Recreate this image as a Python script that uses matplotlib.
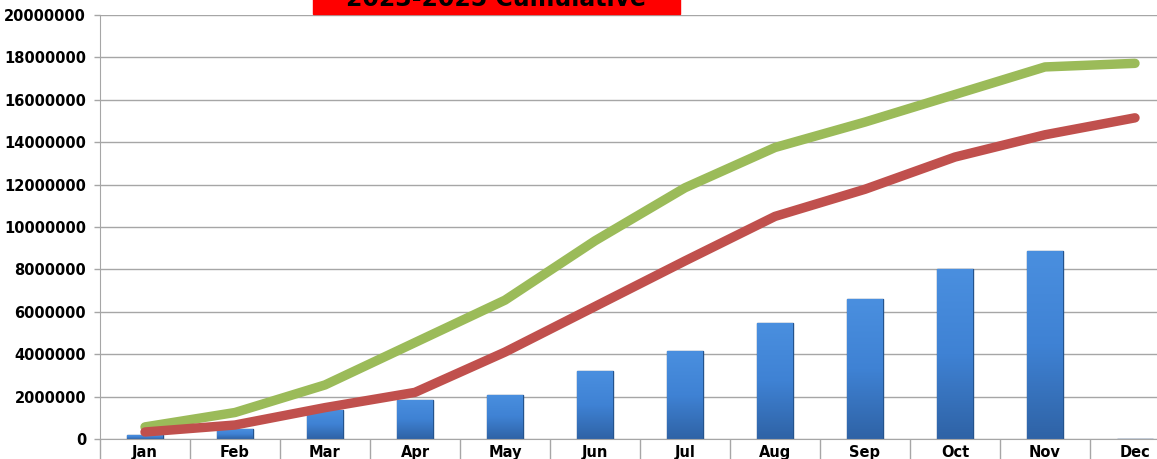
""" cumulative monthly chart - bars + two running totals """

import numpy as np
import matplotlib.pyplot as plt
from matplotlib.colors import LinearSegmentedColormap
from matplotlib.patches import Rectangle

months = ["Jan", "Feb", "Mar", "Apr", "May", "Jun",
          "Jul", "Aug", "Sep", "Oct", "Nov", "Dec"]

# monthly bars (current year, Dec not in yet)
bars = [180000, 450000, 1370000, 1840000, 2080000, 3200000,
        4150000, 5470000, 6600000, 8000000, 8880000, 0]
# cumulative lines
green = [570000, 1250000, 2550000, 4550000, 6550000, 9350000,
         11850000, 13750000, 14950000, 16250000, 17550000, 17720000]
red = [330000, 660000, 1480000, 2200000, 4100000, 6250000,
       8400000, 10500000, 11780000, 13300000, 14350000, 15150000]

title = "2023-2025 Cumulative"
yticks = np.arange(0, 20000001, 2000000)

fig = plt.figure(figsize=(11.57, 4.59), dpi=100)
ax = fig.add_axes([100 / 1157, 20 / 459, 1080 / 1157, 424 / 459])

x = np.arange(len(months))
rects = ax.bar(x, bars, width=0.4, color="#3b78c4", edgecolor="#24538c",
               linewidth=1.0, zorder=2)

# shaded look on the bars: lighter on top, darker toward the base
cmap = LinearSegmentedColormap.from_list("bev", ["#2f63a6", "#3f82d4", "#4a8fdf"])
grad = np.linspace(0, 1, 100).reshape(-1, 1)
for r in rects:
    h = r.get_height()
    if h <= 0:
        continue
    im = ax.imshow(grad, cmap=cmap, aspect="auto", origin="lower",
                   extent=(r.get_x(), r.get_x() + r.get_width(), 0, h),
                   zorder=2.1)
    im.set_clip_path(r)

ax.plot(x, green, color="#9bbb59", lw=6.8, solid_capstyle="round",
        solid_joinstyle="round", zorder=3)
ax.plot(x, red, color="#c0504d", lw=6.8, solid_capstyle="round",
        solid_joinstyle="round", zorder=4)

ax.set_xlim(-0.5, 11.5)
ax.set_ylim(0, 20000000)
ax.set_yticks(yticks)
ax.set_yticklabels([str(v) for v in yticks], fontsize=10.5, fontweight="bold")
ax.yaxis.grid(True, color="#a6a6a6", lw=1.0, zorder=0)
ax.set_axisbelow(True)

ax.set_xticks(x)
ax.set_xticklabels(months, fontsize=10.5, fontweight="bold")
ax.set_xticks(np.arange(-0.5, 12, 1), minor=True)
ax.tick_params(axis="x", which="major", length=0, pad=4)
ax.tick_params(axis="x", which="minor", length=16, color="#a6a6a6", width=1)
ax.tick_params(axis="y", length=4, color="#a6a6a6", width=1, pad=6)

for s in ["top", "right"]:
    ax.spines[s].set_visible(False)
ax.spines["left"].set_color("#a6a6a6")
ax.spines["bottom"].set_color("#a6a6a6")

# red title box, cut off at the top of the picture like the original
fig.patches.append(Rectangle((313 / 1157, 1 - 14 / 459), 367 / 1157, 0.1,
                             transform=fig.transFigure, color="#ff0000",
                             zorder=5))
fig.text(496 / 1157, 1 - 6 / 459, title, ha="center", va="baseline",
         fontsize=17, fontweight="bold", color="black", zorder=6)

fig.savefig("out.png", dpi=100)
